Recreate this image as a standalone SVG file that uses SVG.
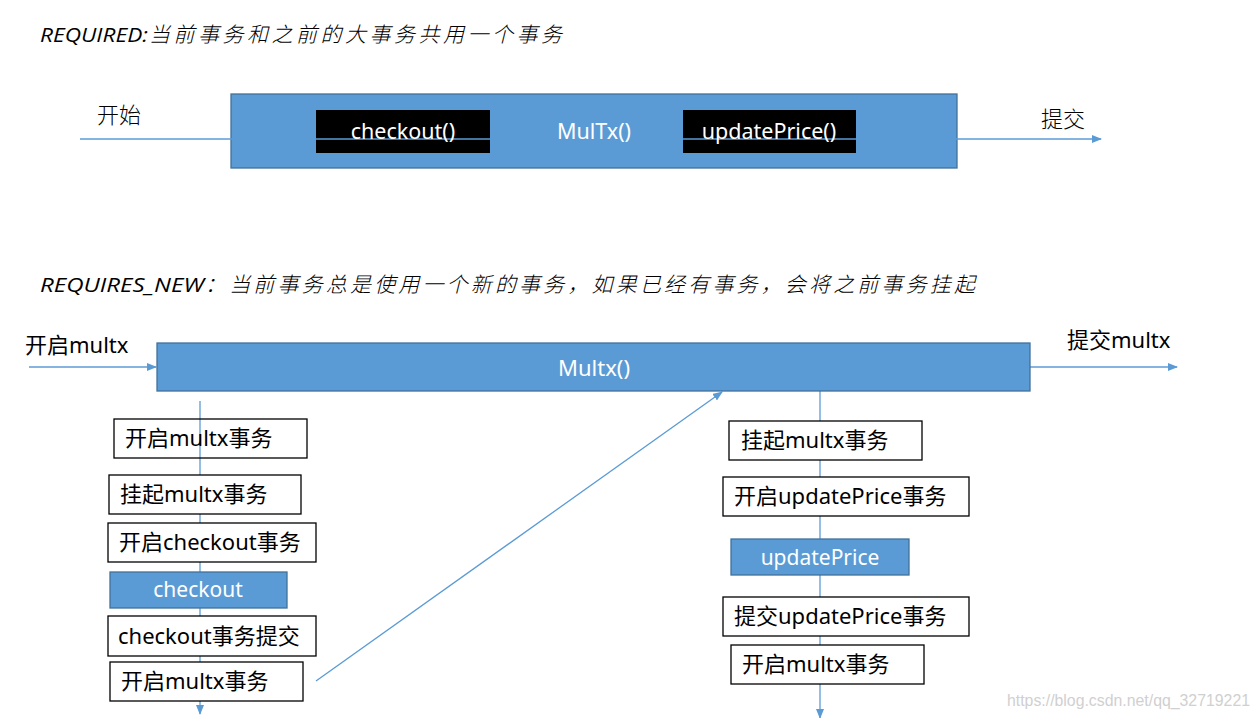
<svg xmlns="http://www.w3.org/2000/svg" width="1257" height="718" viewBox="0 0 1257 718">
<style>
.bg{fill:#fff}
.blue{fill:#5B9BD5;stroke:#41719C;stroke-width:1.3}
.blk{fill:#000}
.box{fill:#fff;stroke:#000;stroke-width:1.3}
.boxo{fill:none;stroke:#000;stroke-width:1.3}
.ln{stroke:#5B9BD5;stroke-width:1.3;fill:none}
.t{font-family:"Noto Sans","Noto Sans CJK SC",sans-serif;font-size:22px;fill:#000}
.w{font-family:"Noto Sans","Noto Sans CJK SC",sans-serif;font-size:21px;fill:#fff;text-anchor:middle}
.h{font-family:"Open Sans","Noto Sans",sans-serif;font-size:20px;font-style:italic;fill:#000}
.hc{font-family:"Noto Sans CJK SC",sans-serif;font-size:21px;font-style:italic;font-weight:300;fill:#000}
.c{font-family:"Noto Sans CJK SC",sans-serif;font-size:22px;font-weight:300;fill:#000}
.wm{font-family:"Liberation Sans",Arial,sans-serif;font-size:16px;fill:#d0d0d0}
</style>
<defs>
<marker id="ah" markerWidth="10" markerHeight="8" refX="9" refY="4" orient="auto" markerUnits="userSpaceOnUse">
<path d="M0,0 L10,4 L0,8 Z" fill="#5B9BD5"/>
</marker>
</defs>
<rect class="bg" x="0" y="0" width="1257" height="718"/>

<g id="heading1">
<text class="h" x="40" y="42" textLength="108" lengthAdjust="spacingAndGlyphs">REQUIRED:</text>
<text class="hc" x="149" y="42" textLength="413" lengthAdjust="spacing">当前事务和之前的大事务共用一个事务</text>
</g>

<g id="multx-top">
<rect class="blue" x="231" y="94" width="726" height="74"/>
</g>
<g id="checkout-top">
<rect class="blk" x="316" y="110" width="174" height="43"/>
</g>
<g id="updateprice-top">
<rect class="blk" x="683" y="110" width="173" height="43"/>
</g>

<g id="connectors-top">
<line class="ln" x1="80" y1="139" x2="1101" y2="139" marker-end="url(#ah)"/>
</g>

<g id="labels-top">
<text class="w" x="403" y="139" style="font-size:21.5px">checkout()</text>
<text class="w" x="594" y="139" style="font-size:21.5px">MulTx()</text>
<text class="w" x="769" y="139" style="font-size:21.5px">updatePrice()</text>
<text class="c" x="97" y="123">开始</text>
<text class="c" x="1041" y="127">提交</text>
</g>

<g id="heading2">
<text class="h" x="40" y="292" textLength="164" lengthAdjust="spacingAndGlyphs">REQUIRES_NEW</text>
<text class="hc" x="205" y="292" textLength="770" lengthAdjust="spacing">：当前事务总是使用一个新的事务，如果已经有事务，会将之前事务挂起</text>
</g>

<g id="connectors">
<line class="ln" x1="29" y1="367" x2="156" y2="367" marker-end="url(#ah)"/>
<line class="ln" x1="1030" y1="367" x2="1177" y2="367" marker-end="url(#ah)"/>
<line class="ln" x1="200" y1="401" x2="200" y2="714" marker-end="url(#ah)"/>
<line class="ln" x1="820" y1="391" x2="820" y2="718" marker-end="url(#ah)"/>
<line class="ln" x1="316" y1="681" x2="722" y2="392" marker-end="url(#ah)"/>
</g>

<g id="multx">
<rect class="blue" x="157" y="343" width="873" height="48"/>
<text class="w" x="594" y="376" style="font-size:22px">Multx()</text>
</g>
<g id="text-start-multx">
<text class="t" x="25" y="353">开启multx</text>
</g>
<g id="text-commit-multx">
<text class="t" x="1067" y="348">提交multx</text>
</g>

<g id="l1">
<rect class="boxo" x="114" y="419" width="193" height="39"/>
<text class="t" x="125" y="446">开启multx事务</text>
</g>
<g id="l2">
<rect class="box" x="109" y="475" width="192" height="39"/>
<text class="t" x="120" y="502">挂起multx事务</text>
</g>
<g id="l3">
<rect class="box" x="108" y="523" width="208" height="39"/>
<text class="t" x="119" y="550">开启checkout事务</text>
</g>
<g id="l4">
<rect class="blue" x="110" y="572" width="177" height="36"/>
<text class="w" x="198" y="597">checkout</text>
</g>
<g id="l5">
<rect class="box" x="108" y="616" width="208" height="40"/>
<text class="t" x="118" y="644">checkout事务提交</text>
</g>
<g id="l6">
<rect class="box" x="110" y="662" width="193" height="39"/>
<text class="t" x="121" y="689">开启multx事务</text>
</g>

<g id="r1">
<rect class="box" x="729" y="421" width="193" height="39"/>
<text class="t" x="741" y="448">挂起multx事务</text>
</g>
<g id="r2">
<rect class="box" x="723" y="477" width="246" height="39"/>
<text class="t" x="734" y="504">开启updatePrice事务</text>
</g>
<g id="r3">
<rect class="blue" x="731" y="539" width="178" height="36"/>
<text class="w" x="820" y="565">updatePrice</text>
</g>
<g id="r4">
<rect class="box" x="723" y="597" width="246" height="39"/>
<text class="t" x="734" y="624">提交updatePrice事务</text>
</g>
<g id="r5">
<rect class="box" x="731" y="645" width="193" height="39"/>
<text class="t" x="742" y="672">开启multx事务</text>
</g>

<g id="watermark">
<text class="wm" x="1007" y="706" textLength="243" lengthAdjust="spacingAndGlyphs">https://blog.csdn.net/qq_32719221</text>
</g>
</svg>
